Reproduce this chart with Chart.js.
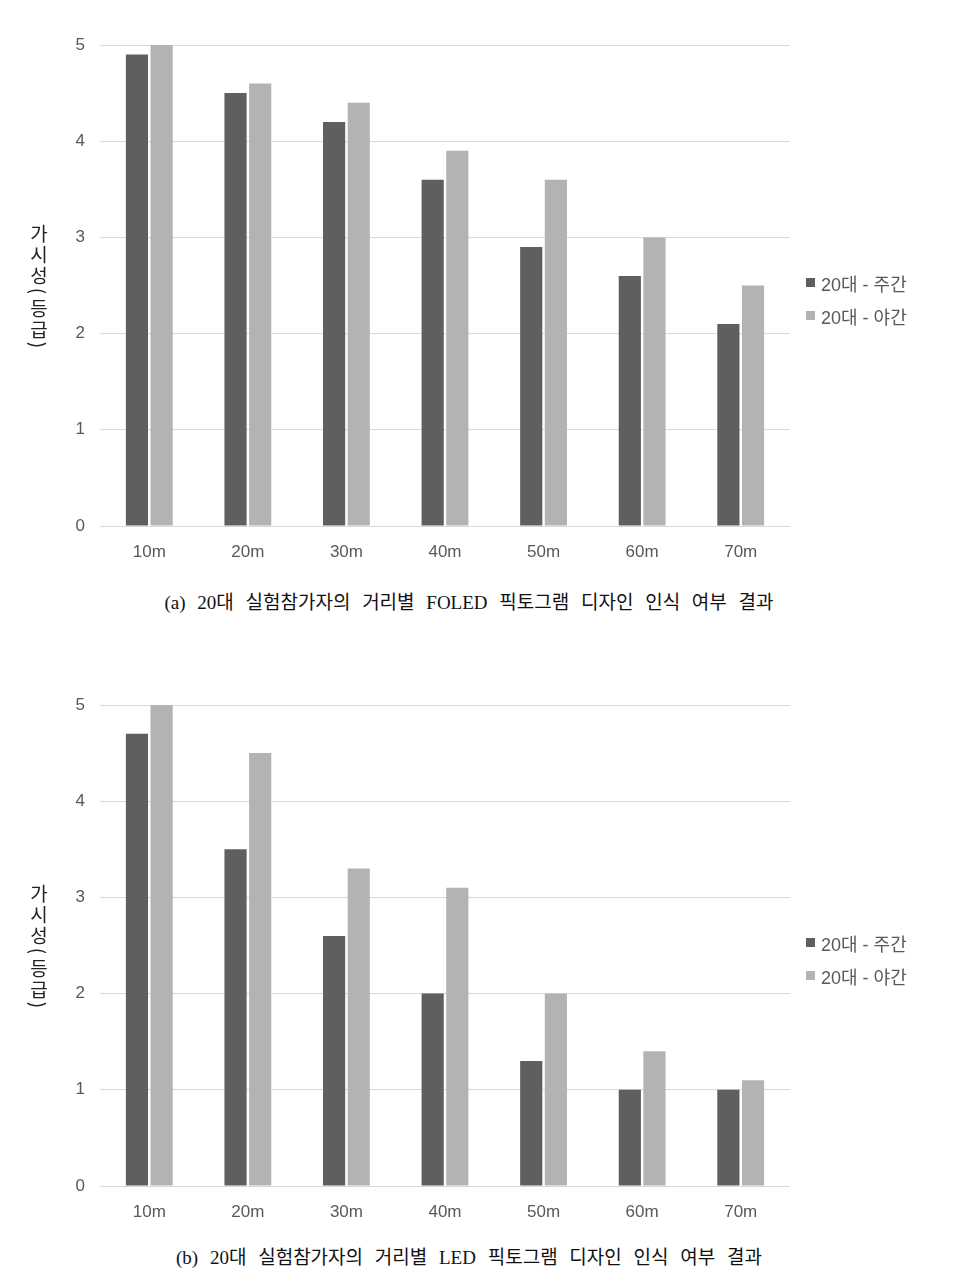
<!DOCTYPE html>
<html>
<head>
<meta charset="utf-8">
<script src="https://cdn.jsdelivr.net/npm/chart.js@4/dist/chart.umd.min.js"></script>
<style>
  body { margin: 0; background: #fff; width: 964px; height: 1286px; position: relative; overflow: hidden; }
  .wrap { position: absolute; left: 0; width: 964px; height: 580px; }
  .ytitle { position: absolute; left: 28px; width: 22px; font-family: "Noto Sans CJK KR", sans-serif; font-size: 19px; color: #222; text-align: center; }
  .ytitle span { display: block; height: 21px; line-height: 21px; }
  .ytitle span.paren { height: 12px; line-height: 12px; transform: rotate(90deg); }
  .legend { position: absolute; left: 806px; font-family: Arial, "Liberation Sans", "Noto Sans CJK KR", sans-serif; font-size: 18px; color: #595959; }
  .legend div { height: 33px; display: flex; align-items: center; }
  .legend span.box { display: inline-block; width: 9px; height: 9px; margin-right: 6px; }
  .caption { position: absolute; left: 0; width: 938px; text-align: center; font-family: "Liberation Serif", "Noto Sans CJK KR", serif; font-size: 19px; color: #111; word-spacing: 7px; }
</style>
</head>
<body>
<div class="wrap" style="top:0"><canvas id="chartA" width="964" height="580"></canvas></div>
<div class="ytitle" id="ytitleA" style="top:222px"></div>
<div class="legend" id="legendA" style="top:266px"></div>
<div class="caption" style="top:587px">(a) 20대 실험참가자의 거리별 FOLED 픽토그램 디자인 인식 여부 결과</div>

<div class="wrap" style="top:660px"><canvas id="chartB" width="964" height="580"></canvas></div>
<div class="ytitle" id="ytitleB" style="top:882px"></div>
<div class="legend" id="legendB" style="top:926px"></div>
<div class="caption" style="top:1242px">(b) 20대 실험참가자의 거리별 LED 픽토그램 디자인 인식 여부 결과</div>

<script>
// ===== DATA =====
const distances = ['10m', '20m', '30m', '40m', '50m', '60m', '70m'];
const seriesNames = ['20대 - 주간', '20대 - 야간'];
const yTicks = [0, 1, 2, 3, 4, 5];
const yTitle = '가시성(등급)';

// (a) FOLED
const foledDay = [4.9, 4.5, 4.2, 3.6, 2.9, 2.6, 2.1];
const foledNight = [5.0, 4.6, 4.4, 3.9, 3.6, 3.0, 2.5];

// (b) LED
const ledDay = [4.7, 3.5, 2.6, 2.0, 1.3, 1.0, 1.0];
const ledNight = [5.0, 4.5, 3.3, 3.1, 2.0, 1.4, 1.1];

const COLORS = ['#5f5f5f', '#b3b3b3'];
const TICK_COLOR = '#595959';
const GRID_COLOR = '#d9d9d9';

function makeChart(canvasId, dayData, nightData) {
    const ctx = document.getElementById(canvasId).getContext('2d');
    return new Chart(ctx, {
        type: 'bar',
        data: {
            labels: distances,
            datasets: [
                { label: seriesNames[0], data: dayData, backgroundColor: COLORS[0] },
                { label: seriesNames[1], data: nightData, backgroundColor: COLORS[1] }
            ]
        },
        options: {
            responsive: false,
            animation: false,
            categoryPercentage: 0.5,
            barPercentage: 0.9,
            layout: { padding: { top: 45, right: 174, left: 0, bottom: 0 } },
            plugins: { legend: { display: false }, tooltip: { enabled: false } },
            scales: {
                x: {
                    grid: { display: false },
                    border: { display: false },
                    ticks: { color: TICK_COLOR, font: { family: 'Arial, "Liberation Sans"', size: 17 }, padding: 8 },
                    afterFit: (scale) => { scale.height = 54; }
                },
                y: {
                    min: 0, max: 5,
                    afterBuildTicks: (scale) => { scale.ticks = yTicks.map(v => ({ value: v })); },
                    grid: { color: GRID_COLOR, lineWidth: 1, drawTicks: false },
                    border: { display: false },
                    ticks: { color: TICK_COLOR, font: { family: 'Arial, "Liberation Sans"', size: 17 }, padding: 15 },
                    afterFit: (scale) => { scale.width = 100; }
                }
            }
        }
    });
}

function buildLegend(elId) {
    const el = document.getElementById(elId);
    seriesNames.forEach((name, i) => {
        const row = document.createElement('div');
        row.innerHTML = `<span class="box" style="background:${COLORS[i]}"></span>${name}`;
        el.appendChild(row);
    });
}

// stacked upright characters, brackets turned sideways
function buildYTitle(elId) {
    const el = document.getElementById(elId);
    [...yTitle].forEach(ch => {
        const s = document.createElement('span');
        if (ch === '(' || ch === ')') s.className = 'paren';
        s.textContent = ch;
        el.appendChild(s);
    });
}

makeChart('chartA', foledDay, foledNight);
makeChart('chartB', ledDay, ledNight);
buildLegend('legendA');
buildLegend('legendB');
buildYTitle('ytitleA');
buildYTitle('ytitleB');
</script>
</body>
</html>
